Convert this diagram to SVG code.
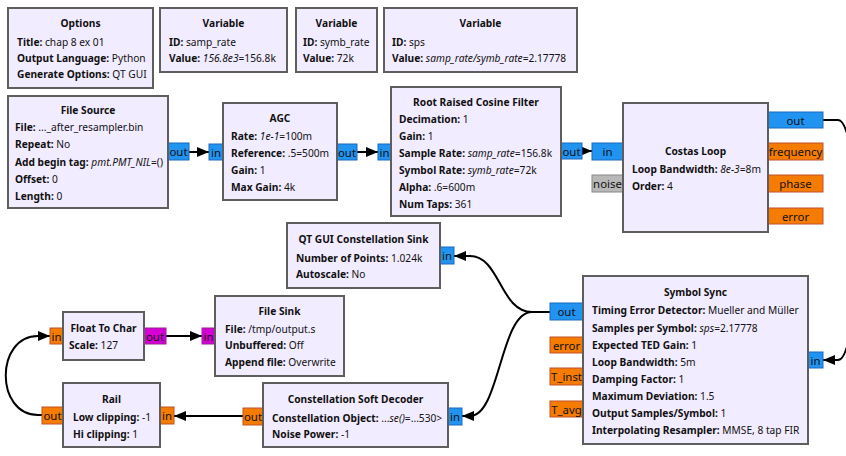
<svg xmlns="http://www.w3.org/2000/svg" width="846" height="456" viewBox="0 0 846 456">
  <style>
    text { font-family: "Noto Sans", "Open Sans", sans-serif; font-size: 10.2px; fill: #111; }
    .blk { fill: #F1ECFF; stroke: #5E5E5E; stroke-width: 2; }
    .ttl { font-weight: bold; text-anchor: middle; }
    .k { font-weight: bold; }
    .i { font-style: italic; }
    .pl { text-anchor: middle; font-size: 11.4px; }
    .cplx { fill: #2193F0; stroke: #1A6BC0; stroke-width: 1; }
    .flt { fill: #F57C00; stroke: #C0502A; stroke-width: 1; }
    .byte { fill: #D400D4; stroke: #9A209A; stroke-width: 1; }
    .msg { fill: #B8B8B8; stroke: #888; stroke-width: 1; }
    .wire { fill: none; stroke: #000; stroke-width: 2; marker-end: url(#head); }
  </style>
  <defs>
    <marker id="head" markerUnits="userSpaceOnUse" markerWidth="12" markerHeight="10" refX="12" refY="5" orient="auto">
      <path d="M0,0 L12,5 L0,10 Z" fill="#000"/>
    </marker>
  </defs>
  <rect width="846" height="456" fill="#fff"/>

  <!-- connections -->
  <g id="connectors">
    <path class="wire" d="M189,152 H209"/>
    <path class="wire" d="M357,152 H378"/>
    <path class="wire" d="M582,151 H592"/>
    <path class="wire" d="M823,120 H838 C862,120 862,360 838,360 H823"/>
    <path class="wire" d="M550,312 H532 C500,312 500,256 470,256 H454"/>
    <path class="wire" d="M550,312 H532 C500,312 500,416 470,416 H462"/>
    <path class="wire" d="M243,416 H174"/>
    <path class="wire" d="M42,415 H38 C-5,415 -5,336 38,336 H50"/>
    <path class="wire" d="M166,336 H202"/>
  </g>

  <g id="options">
    <rect class="blk" x="8" y="8" width="145" height="80"/>
    <text class="ttl" x="80.5" y="27">Options</text>
    <text x="17" y="46"><tspan class="k">Title:</tspan> chap 8 ex 01</text>
    <text x="17" y="62"><tspan class="k">Output Language:</tspan> Python</text>
    <text x="17" y="78"><tspan class="k">Generate Options:</tspan> QT GUI</text>
  </g>

  <g id="var_samp_rate">
    <rect class="blk" x="160" y="8" width="127" height="64"/>
    <text class="ttl" x="223.5" y="27">Variable</text>
    <text x="169" y="46"><tspan class="k">ID:</tspan> samp_rate</text>
    <text x="169" y="62"><tspan class="k">Value:</tspan> <tspan class="i">156.8e3</tspan>=156.8k</text>
  </g>

  <g id="var_symb_rate">
    <rect class="blk" x="296" y="8" width="81" height="64"/>
    <text class="ttl" x="336.5" y="27">Variable</text>
    <text x="303" y="46"><tspan class="k">ID:</tspan> symb_rate</text>
    <text x="303" y="62"><tspan class="k">Value:</tspan> 72k</text>
  </g>

  <g id="var_sps">
    <rect class="blk" x="384" y="8" width="193" height="64"/>
    <text class="ttl" x="480.5" y="27">Variable</text>
    <text x="392" y="46"><tspan class="k">ID:</tspan> sps</text>
    <text x="392" y="62"><tspan class="k">Value:</tspan> <tspan class="i">samp_rate/symb_rate</tspan>=2.17778</text>
  </g>

  <g id="file_source">
    <rect class="cplx" x="168" y="143" width="21" height="17"/>
    <text class="pl" x="178.5" y="156">out</text>
    <rect class="blk" x="8" y="96" width="160" height="112"/>
    <text class="ttl" x="88" y="114">File Source</text>
    <text x="15" y="131"><tspan class="k">File:</tspan> ..._after_resampler.bin</text>
    <text x="15" y="148"><tspan class="k">Repeat:</tspan> No</text>
    <text x="15" y="166"><tspan class="k">Add begin tag:</tspan> <tspan class="i">pmt.PMT_NIL</tspan>=()</text>
    <text x="15" y="183"><tspan class="k">Offset:</tspan> 0</text>
    <text x="15" y="200"><tspan class="k">Length:</tspan> 0</text>
  </g>

  <g id="agc">
    <rect class="cplx" x="209" y="144" width="14" height="16"/>
    <text class="pl" x="216" y="156.5">in</text>
    <rect class="cplx" x="337" y="144" width="20" height="16"/>
    <text class="pl" x="347" y="156.5">out</text>
    <rect class="blk" x="223" y="103" width="114" height="97"/>
    <text class="ttl" x="280" y="122">AGC</text>
    <text x="231" y="140"><tspan class="k">Rate:</tspan> <tspan class="i">1e-1</tspan>=100m</text>
    <text x="231" y="157"><tspan class="k">Reference:</tspan> .5=500m</text>
    <text x="231" y="174"><tspan class="k">Gain:</tspan> 1</text>
    <text x="231" y="191"><tspan class="k">Max Gain:</tspan> 4k</text>
  </g>

  <g id="rrc_filter">
    <rect class="cplx" x="378" y="144" width="13" height="16"/>
    <text class="pl" x="384.5" y="156.5">in</text>
    <rect class="cplx" x="561" y="143" width="21" height="16"/>
    <text class="pl" x="571.5" y="155.5">out</text>
    <rect class="blk" x="391" y="87" width="170" height="129"/>
    <text class="ttl" x="476" y="106">Root Raised Cosine Filter</text>
    <text x="399" y="123"><tspan class="k">Decimation:</tspan> 1</text>
    <text x="399" y="140"><tspan class="k">Gain:</tspan> 1</text>
    <text x="399" y="157"><tspan class="k">Sample Rate:</tspan> <tspan class="i">samp_rate</tspan>=156.8k</text>
    <text x="399" y="174"><tspan class="k">Symbol Rate:</tspan> <tspan class="i">symb_rate</tspan>=72k</text>
    <text x="399" y="191"><tspan class="k">Alpha:</tspan> .6=600m</text>
    <text x="399" y="208"><tspan class="k">Num Taps:</tspan> 361</text>
  </g>

  <g id="costas_loop">
    <rect class="cplx" x="592" y="143" width="31" height="17"/>
    <text class="pl" x="607.5" y="156">in</text>
    <rect class="msg" x="592" y="175" width="31" height="17"/>
    <text class="pl" x="607.5" y="188">noise</text>
    <rect class="cplx" x="768" y="112" width="55" height="16"/>
    <text class="pl" x="795.5" y="124.5">out</text>
    <rect class="flt" x="768" y="143" width="55" height="17"/>
    <text class="pl" x="795.5" y="156">frequency</text>
    <rect class="flt" x="768" y="175" width="55" height="17"/>
    <text class="pl" x="795.5" y="188">phase</text>
    <rect class="flt" x="768" y="208" width="55" height="16"/>
    <text class="pl" x="795.5" y="220.5">error</text>
    <rect class="blk" x="623" y="103" width="145" height="129"/>
    <text class="ttl" x="695.5" y="155">Costas Loop</text>
    <text x="632" y="173"><tspan class="k">Loop Bandwidth:</tspan> <tspan class="i">8e-3</tspan>=8m</text>
    <text x="632" y="190"><tspan class="k">Order:</tspan> 4</text>
  </g>

  <g id="qt_constellation_sink">
    <rect class="cplx" x="440" y="247" width="14" height="17"/>
    <text class="pl" x="447" y="260">in</text>
    <rect class="blk" x="287" y="223" width="153" height="65"/>
    <text class="ttl" x="363.5" y="243">QT GUI Constellation Sink</text>
    <text x="296" y="262"><tspan class="k">Number of Points:</tspan> 1.024k</text>
    <text x="296" y="278"><tspan class="k">Autoscale:</tspan> No</text>
  </g>

  <g id="symbol_sync">
    <rect class="cplx" x="550" y="303" width="33" height="17"/>
    <text class="pl" x="566.5" y="316">out</text>
    <rect class="flt" x="550" y="337" width="33" height="16"/>
    <text class="pl" x="566.5" y="349.5">error</text>
    <rect class="flt" x="550" y="368" width="33" height="17"/>
    <text class="pl" x="566.5" y="381">T_inst</text>
    <rect class="flt" x="550" y="401" width="33" height="16"/>
    <text class="pl" x="566.5" y="413.5">T_avg</text>
    <rect class="cplx" x="808" y="352" width="15" height="16"/>
    <text class="pl" x="815.5" y="364.5">in</text>
    <rect class="blk" x="583" y="276" width="225" height="168"/>
    <text class="ttl" x="695.5" y="296">Symbol Sync</text>
    <text x="592" y="314"><tspan class="k">Timing Error Detector:</tspan> Mueller and Müller</text>
    <text x="592" y="331.5"><tspan class="k">Samples per Symbol:</tspan> <tspan class="i">sps</tspan>=2.17778</text>
    <text x="592" y="348.5"><tspan class="k">Expected TED Gain:</tspan> 1</text>
    <text x="592" y="365.5"><tspan class="k">Loop Bandwidth:</tspan> 5m</text>
    <text x="592" y="382.5"><tspan class="k">Damping Factor:</tspan> 1</text>
    <text x="592" y="399.5"><tspan class="k">Maximum Deviation:</tspan> 1.5</text>
    <text x="592" y="416.5"><tspan class="k">Output Samples/Symbol:</tspan> 1</text>
    <text x="592" y="433.5"><tspan class="k">Interpolating Resampler:</tspan> MMSE, 8 tap FIR</text>
  </g>

  <g id="float_to_char">
    <rect class="flt" x="50" y="328" width="13" height="16"/>
    <text class="pl" x="56.5" y="340.5">in</text>
    <rect class="byte" x="144" y="328" width="22" height="16"/>
    <text class="pl" x="155" y="340.5">out</text>
    <rect class="blk" x="63" y="312" width="81" height="48"/>
    <text class="ttl" x="103.5" y="331.5">Float To Char</text>
    <text x="69" y="349"><tspan class="k">Scale:</tspan> 127</text>
  </g>

  <g id="file_sink">
    <rect class="byte" x="202" y="328" width="13" height="16"/>
    <text class="pl" x="208.5" y="340.5">in</text>
    <rect class="blk" x="215" y="296" width="129" height="80"/>
    <text class="ttl" x="279.5" y="314.5">File Sink</text>
    <text x="225" y="333"><tspan class="k">File:</tspan> /tmp/output.s</text>
    <text x="225" y="349"><tspan class="k">Unbuffered:</tspan> Off</text>
    <text x="225" y="366"><tspan class="k">Append file:</tspan> Overwrite</text>
  </g>

  <g id="rail">
    <rect class="flt" x="160" y="407" width="14" height="17"/>
    <text class="pl" x="167" y="420">in</text>
    <rect class="flt" x="42" y="407" width="21" height="17"/>
    <text class="pl" x="52.5" y="420">out</text>
    <rect class="blk" x="63" y="383" width="97" height="64"/>
    <text class="ttl" x="111.5" y="403">Rail</text>
    <text x="73" y="421"><tspan class="k">Low clipping:</tspan> -1</text>
    <text x="73" y="438"><tspan class="k">Hi clipping:</tspan> 1</text>
  </g>

  <g id="constellation_soft_decoder">
    <rect class="cplx" x="448" y="408" width="14" height="17"/>
    <text class="pl" x="455" y="421">in</text>
    <rect class="flt" x="243" y="408" width="20" height="17"/>
    <text class="pl" x="253" y="421">out</text>
    <rect class="blk" x="263" y="383" width="185" height="64"/>
    <text class="ttl" x="355.5" y="403">Constellation Soft Decoder</text>
    <text x="272" y="421.5"><tspan class="k">Constellation Object:</tspan> ...<tspan class="i">se()</tspan>=...530&gt;</text>
    <text x="272" y="437.5"><tspan class="k">Noise Power:</tspan> -1</text>
  </g>
</svg>
